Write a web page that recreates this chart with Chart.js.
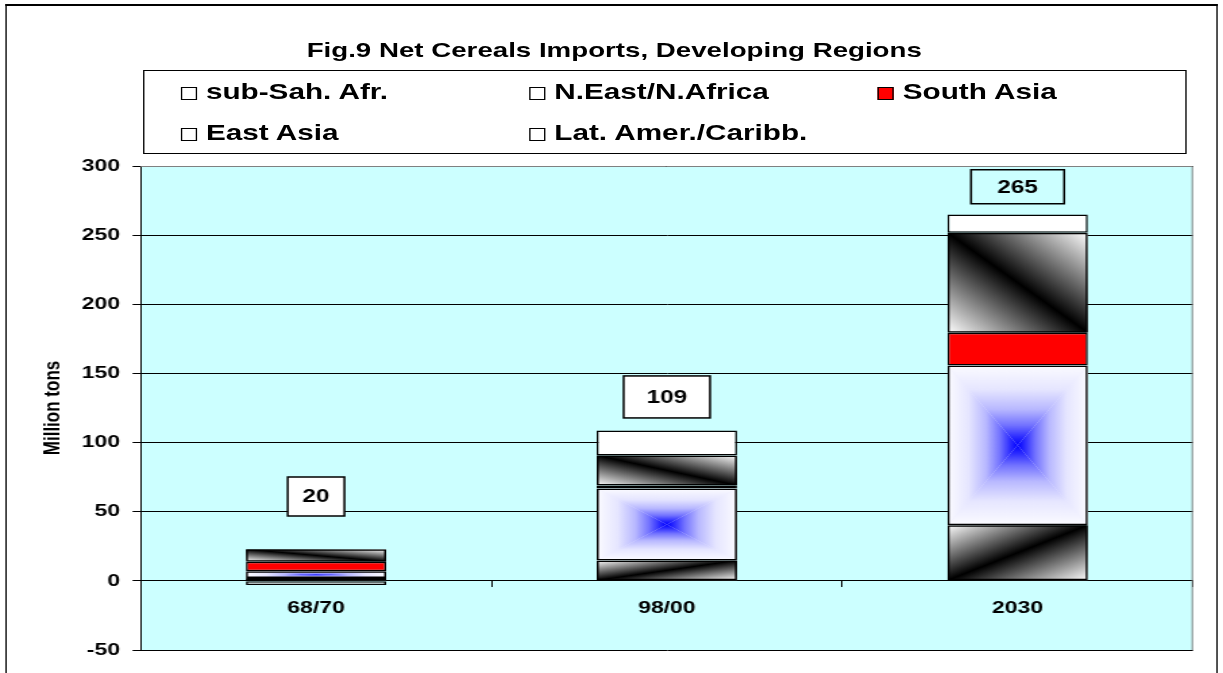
<!DOCTYPE html>
<html>
<head>
<meta charset="utf-8">
<script src="https://cdn.jsdelivr.net/npm/chart.js@4.4.1/dist/chart.umd.min.js"></script>
<style>
  html, body { margin: 0; padding: 0; background: #fff; overflow: hidden; }
  /* the original picture is stretched sideways, so the whole sheet is too */
  #sheet { position: absolute; left: 0; top: 0; width: 906px; height: 673px;
           transform: scaleX(1.35); transform-origin: 0 0;
           font-family: Arial, "Liberation Sans", sans-serif; font-weight: bold; color: #000; }
  #frame { position: absolute; left: 4px; top: 4px; width: 896px; height: 720px;
           border-top: 2px solid #000; border-left: 1.5px solid #000; border-right: 1.5px solid #000; }
  #chart { position: absolute; left: 0; top: 0; }
  #title { position: absolute; left: 2px; top: 40px; width: 906px; text-align: center;
           font-size: 20.5px; line-height: 20.5px; white-space: nowrap; }
  #legend { position: absolute; left: 106px; top: 70px; width: 771px; height: 82px;
            border: 1px solid #000; background: #fff; }
  .item { position: absolute; font-size: 22px; line-height: 22px; white-space: nowrap; }
  .mark { position: absolute; width: 10px; height: 11px; border: 1px solid #000; }
</style>
</head>
<body>
<div id="sheet">
  <canvas id="chart" width="906" height="673"></canvas>
  <div id="frame"></div>
  <div id="title">Fig.9 Net Cereals Imports, Developing Regions</div>
  <div id="legend"></div>
</div>
<script>
const periods = ['68/70', '98/00', '2030'];
const regions = ['sub-Sah. Afr.', 'N.East/N.Africa', 'South Asia', 'East Asia', 'Lat. Amer./Caribb.'];

// million tons
const subSahAfr     = [2.0, 14.8, 40.3];
const nEastNAfrica  = [4.9, 51.9, 115.5];
const southAsia     = [7.0, 2.3, 23.7];
const eastAsia      = [8.9, 21.7, 72.3];
const latAmerCarib  = [-3.0, 18.1, 13.2];

// height (million tons) at which each total box sits
const totalLabelAt = [61, 133, 285];

const yMin = -50, yMax = 300, yStep = 50;

// how each series is painted
const fills = ['diagUp', 'blueBox', '#ff0000', 'diagDown', '#ffffff'];
const legendMarks = ['#ffffff', '#ffffff', '#ff0000', '#ffffff', '#ffffff'];
const boxW = [42, 64, 69], boxH = [39, 42, 34], boxFill = ['#ffffff', '#ffffff', null];

const series = [subSahAfr, nEastNAfrica, southAsia, eastAsia, latAmerCarib];
const totals = periods.map((p, i) => Math.round(series.reduce((s, arr) => s + arr[i], 0)));

Chart.defaults.font.family = 'Arial, "Liberation Sans", sans-serif';
Chart.defaults.color = '#000';

function barRect(el) {
    const p = el.getProps(['x', 'y', 'base', 'width'], true);
    const top = Math.min(p.y, p.base), bottom = Math.max(p.y, p.base);
    return { l: p.x - p.width / 2, t: top, w: p.width, h: bottom - top };
}

// black band along one diagonal, fading to white at the other two corners
function paintDiagonal(ctx, r, up) {
    const cx = r.l + r.w / 2, cy = r.t + r.h / 2;
    const k = r.w * r.h / (r.w * r.w + r.h * r.h);
    const g = up
        ? ctx.createLinearGradient(cx - r.h * k, cy - r.w * k, cx + r.h * k, cy + r.w * k)
        : ctx.createLinearGradient(cx + r.h * k, cy - r.w * k, cx - r.h * k, cy + r.w * k);
    g.addColorStop(0, '#ffffff');
    g.addColorStop(0.5, '#000000');
    g.addColorStop(1, '#ffffff');
    ctx.fillStyle = g;
    ctx.fillRect(r.l, r.t, r.w, r.h);
}

// blue in the middle, white at the edges, rectangular rings (4 triangles)
function paintBlueBox(ctx, r) {
    const cx = r.l + r.w / 2, cy = r.t + r.h / 2;
    const L = r.l, T = r.t, R = r.l + r.w, B = r.t + r.h;
    ctx.fillStyle = '#eeeeff';
    ctx.fillRect(L, T, r.w, r.h);
    const parts = [
        [[L, T], [R, T], [cx, T]],
        [[R, T], [R, B], [R, cy]],
        [[R, B], [L, B], [cx, B]],
        [[L, B], [L, T], [L, cy]]
    ];
    parts.forEach(([a, b, e]) => {
        const g = ctx.createLinearGradient(cx, cy, e[0], e[1]);
        g.addColorStop(0, '#0000ff');
        g.addColorStop(0.1, '#2a2aff');
        g.addColorStop(0.25, '#7272ff');
        g.addColorStop(0.45, '#b8b8ff');
        g.addColorStop(0.7, '#e6e6ff');
        g.addColorStop(1, '#fbfbff');
        ctx.fillStyle = g;
        ctx.beginPath();
        ctx.moveTo(cx, cy);
        ctx.lineTo(a[0], a[1]);
        ctx.lineTo(b[0], b[1]);
        ctx.closePath();
        ctx.fill();
    });
}

const excelLook = {
    id: 'excelLook',
    beforeDraw(chart) {
        const { ctx, chartArea: a } = chart;
        ctx.save();
        ctx.fillStyle = '#ccffff';
        ctx.fillRect(a.left, a.top, a.right - a.left, a.bottom - a.top);
        ctx.restore();
    },
    beforeDatasetsDraw(chart) {
        const { ctx, chartArea: a } = chart;
        ctx.save();
        ctx.strokeStyle = '#808080';
        ctx.lineWidth = 1;
        ctx.beginPath();
        ctx.moveTo(a.left, a.top + 0.5);
        ctx.lineTo(a.right - 0.5, a.top + 0.5);
        ctx.lineTo(a.right - 0.5, a.bottom);
        ctx.stroke();
        ctx.restore();
    },
    beforeDatasetDraw(chart, args) {
        const kind = fills[args.index];
        if (kind.charAt(0) === '#') return;
        const ctx = chart.ctx;
        args.meta.data.forEach(el => {
            const r = barRect(el);
            if (r.h <= 0) return;
            ctx.save();
            ctx.beginPath();
            ctx.rect(r.l, r.t, r.w, r.h);
            ctx.clip();
            if (kind === 'blueBox') paintBlueBox(ctx, r);
            else paintDiagonal(ctx, r, kind === 'diagUp');
            ctx.restore();
        });
    },
    afterDatasetsDraw(chart) {
        const { ctx, scales: { x, y } } = chart;
        ctx.save();
        ctx.font = 'bold 18px Arial, "Liberation Sans", sans-serif';
        ctx.textAlign = 'center';
        ctx.textBaseline = 'middle';
        totals.forEach((t, i) => {
            const cx = x.getPixelForValue(i);
            const cy = y.getPixelForValue(totalLabelAt[i]);
            const w = boxW[i], h = boxH[i];
            if (boxFill[i]) {
                ctx.fillStyle = boxFill[i];
                ctx.fillRect(cx - w / 2, cy - h / 2, w, h);
            }
            ctx.strokeStyle = '#000';
            ctx.lineWidth = 1.5;
            ctx.strokeRect(cx - w / 2, cy - h / 2, w, h);
            ctx.fillStyle = '#000';
            ctx.fillText(String(t), cx, cy + 1);
        });
        ctx.restore();
    }
};

const chart = new Chart(document.getElementById('chart'), {
    type: 'bar',
    data: {
        labels: periods,
        datasets: regions.map((name, i) => ({
            label: name,
            data: series[i],
            backgroundColor: fills[i].charAt(0) === '#' ? fills[i] : 'rgba(0,0,0,0)',
            borderColor: '#000',
            borderWidth: 1.5,
            borderSkipped: false,
            barPercentage: 0.4,
            categoryPercentage: 1.0
        }))
    },
    options: {
        responsive: false,
        animation: false,
        events: [],
        layout: { padding: { top: 166, right: 22.3, bottom: 23, left: 29 } },
        plugins: {
            legend: { display: false },
            title: { display: false },
            tooltip: { enabled: false }
        },
        scales: {
            x: {
                stacked: true,
                position: { y: 0 },
                grid: { drawOnChartArea: false, drawTicks: true, tickLength: 6, color: '#000', offset: true },
                border: { display: true, color: '#000', width: 1 },
                ticks: { font: { size: 17, weight: 'bold' }, color: '#000', padding: 11 }
            },
            y: {
                stacked: true,
                min: yMin,
                max: yMax,
                ticks: { stepSize: yStep, font: { size: 17, weight: 'bold' }, color: '#000', padding: 9.3 },
                grid: { color: '#000', lineWidth: 1, tickLength: 6, tickColor: '#000' },
                border: { display: true, color: '#000', width: 1 },
                title: {
                    display: true,
                    text: 'Million tons',
                    font: { size: 17, weight: 'bold' },
                    color: '#000',
                    padding: { top: 0, bottom: 0 }
                },
                afterFit(scale) { scale.width = 75.2; }
            }
        }
    },
    plugins: [excelLook]
});

// legend in a boxed three-column grid like the original
const legendBox = document.getElementById('legend');
chart.data.datasets.forEach((ds, i) => {
    const col = i % 3, row = Math.floor(i / 3);
    const left = 27 + col * 258.1;
    const baseline = 29 + row * 41;
    const mark = document.createElement('div');
    mark.className = 'mark';
    mark.style.left = left + 'px';
    mark.style.top = (baseline - 13) + 'px';
    mark.style.background = legendMarks[i];
    legendBox.appendChild(mark);
    const txt = document.createElement('div');
    txt.className = 'item';
    txt.style.left = (left + 18.5) + 'px';
    txt.style.top = (baseline - 18.6) + 'px';
    txt.textContent = ds.label;
    legendBox.appendChild(txt);
});
</script>
</body>
</html>
